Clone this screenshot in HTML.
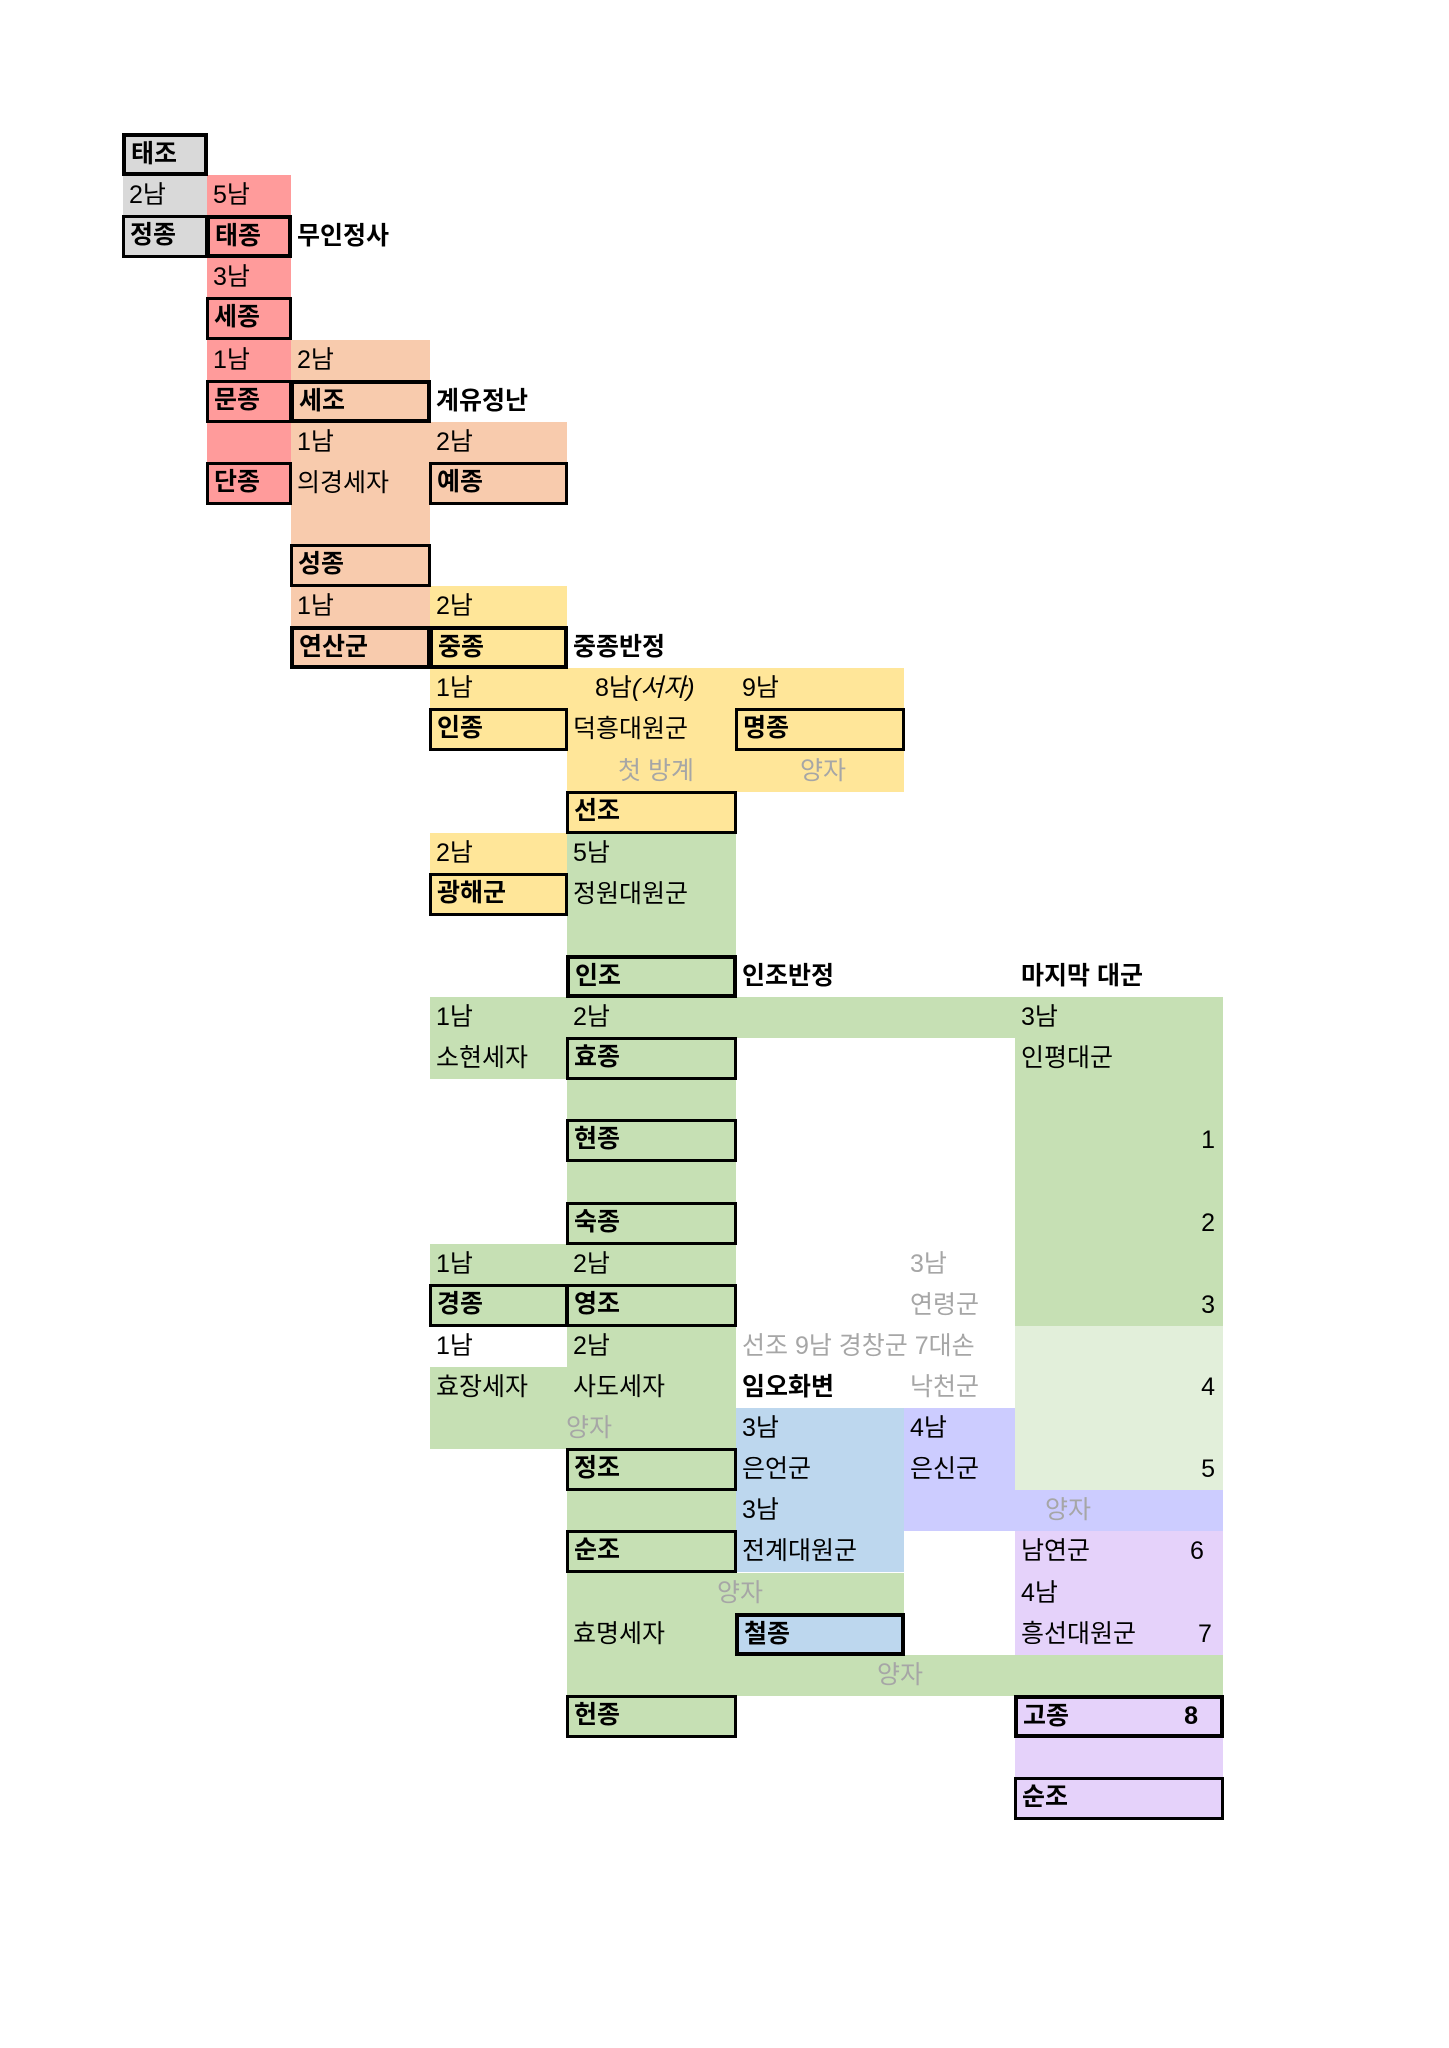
<!DOCTYPE html>
<html><head><meta charset="utf-8"><style>
html,body{margin:0;padding:0;background:#fff;}
body{width:1449px;height:2048px;position:relative;overflow:hidden;font-family:"Liberation Sans","Noto Sans CJK KR","NanumGothic",sans-serif;}
.b{position:absolute;}
.t{position:absolute;font-size:25px;line-height:41px;white-space:nowrap;color:#000;}
.bx{position:absolute;box-sizing:border-box;border:3px solid #000;font-size:25px;font-weight:bold;line-height:35px;padding-left:5px;white-space:nowrap;}
</style></head><body>
<script>
var C=[123,207,291,430,567,736,904,1015,1223];
var RH=41.1;
function Y(r){return 134+RH*r;}
var h='';
function bg(c1,c2,r1,r2,col){h+='<div class="b" style="left:'+C[c1]+'px;top:'+Y(r1)+'px;width:'+(C[c2]-C[c1])+'px;height:'+(Y(r2+1)-Y(r1))+'px;background:'+col+'"></div>';}
function bx(c,r,txt,col,thick,c2,right){c2=c2||c+1;var w=thick?4:3;h+='<div class="bx" style="left:'+(C[c]-1)+'px;top:'+(Y(r)-1)+'px;width:'+(C[c2]-C[c]+2)+'px;height:'+(RH+2)+'px;background:'+col+';border-width:'+w+'px">'+txt+(right?'<span style="position:absolute;right:22px">'+right+'</span>':'')+'</div>';}
function tx(x,r,txt,st){h+='<div class="t" style="left:'+x+'px;top:'+Y(r)+'px;'+(st||'')+'">'+txt+'</div>';}
function tc(cx,r,txt,st){h+='<div class="t" style="left:'+(cx-150)+'px;width:300px;text-align:center;top:'+Y(r)+'px;'+(st||'')+'">'+txt+'</div>';}
function tr(xr,r,txt,st){h+='<div class="t" style="left:'+(xr-100)+'px;width:100px;text-align:right;top:'+Y(r)+'px;'+(st||'')+'">'+txt+'</div>';}
var G='#d9d9d9',R='#ff9b9b',P='#f8cbad',Yl='#ffe699',Gr='#c6e0b4',LG='#e2efda',B='#bdd7ee',L='#ccccff',Pu='#e5d2fa',gt='color:#a6a6a6;';
bg(0,1,0,2,G);bg(1,2,1,8,R);bg(2,3,5,12,P);bg(3,4,7,8,P);
bg(3,4,11,14,Yl);bg(4,6,13,15,Yl);bg(4,5,16,16,Yl);bg(3,4,17,18,Yl);
bg(4,5,17,38,Gr);bg(3,4,21,22,Gr);bg(3,4,27,28,Gr);bg(3,4,30,31,Gr);bg(5,7,21,21,Gr);bg(7,8,21,28,Gr);bg(5,6,35,35,Gr);bg(5,8,37,37,Gr);
bg(7,8,29,32,LG);bg(5,6,31,34,B);bg(5,6,36,36,B);bg(6,7,31,32,L);bg(6,8,33,33,L);bg(7,8,34,36,Pu);bg(7,8,38,40,Pu);
bx(0,0,'태조',G,1);bx(0,2,'정종',G);bx(1,2,'태종',R,1);bx(1,4,'세종',R);bx(1,6,'문종',R);bx(2,6,'세조',P,1);bx(1,8,'단종',R);bx(3,8,'예종',P);
bx(2,10,'성종',P);bx(2,12,'연산군',P,1);bx(3,12,'중종',Yl,1);bx(3,14,'인종',Yl);bx(5,14,'명종',Yl);bx(4,16,'선조',Yl);bx(3,18,'광해군',Yl);
bx(4,20,'인조',Gr,1);bx(4,22,'효종',Gr);bx(4,24,'현종',Gr);bx(4,26,'숙종',Gr);bx(3,28,'경종',Gr);bx(4,28,'영조',Gr);bx(4,32,'정조',Gr);bx(4,34,'순조',Gr);
bx(5,36,'철종',B,1);bx(4,38,'헌종',Gr);bx(7,38,'고종',Pu,1,8,'8');bx(7,40,'순조',Pu);
var p=6;
tx(C[0]+p,1,'2남');tx(C[1]+p,1,'5남');tx(C[2]+6,2,'무인정사','font-weight:bold');tx(C[1]+p,3,'3남');
tx(C[1]+p,5,'1남');tx(C[2]+p,5,'2남');tx(C[3]+6,6,'계유정난','font-weight:bold');
tx(C[2]+p,7,'1남');tx(C[3]+p,7,'2남');tx(C[2]+p,8,'의경세자');
tx(C[2]+p,11,'1남');tx(C[3]+p,11,'2남');tx(C[4]+6,12,'중종반정','font-weight:bold');
tx(C[3]+p,13,'1남');tx(C[4]+28,13,'8남<i>(서자)</i>');tx(C[5]+p,13,'9남');tx(C[4]+p,14,'덕흥대원군');
tc(656,15,'첫 방계',gt);tc(823,15,'양자',gt);
tx(C[3]+p,17,'2남');tx(C[4]+p,17,'5남');tx(C[4]+p,18,'정원대원군');
tx(C[5]+6,20,'인조반정','font-weight:bold');tx(C[7]+6,20,'마지막 대군','font-weight:bold');
tx(C[3]+p,21,'1남');tx(C[4]+p,21,'2남');tx(C[7]+p,21,'3남');tx(C[3]+p,22,'소현세자');tx(C[7]+p,22,'인평대군');
tr(C[8]-8,24,'1');tr(C[8]-8,26,'2');tr(C[8]-8,28,'3');tr(C[8]-8,30,'4');tr(C[8]-8,32,'5');
tx(C[3]+p,27,'1남');tx(C[4]+p,27,'2남');tx(C[6]+6,27,'3남',gt);tx(C[6]+6,28,'연령군',gt);
tx(C[3]+p,29,'1남');tx(C[4]+p,29,'2남');tx(C[5]+p,29,'선조 9남 경창군 7대손',gt);
tx(C[3]+p,30,'효장세자');tx(C[4]+p,30,'사도세자');tx(C[5]+6,30,'임오화변','font-weight:bold');tx(C[6]+6,30,'낙천군',gt);
tc(589,31,'양자',gt);tx(C[5]+p,31,'3남');tx(C[6]+p,31,'4남');tx(C[5]+p,32,'은언군');tx(C[6]+p,32,'은신군');
tx(C[5]+p,33,'3남');tc(1068,33,'양자',gt);tx(C[5]+p,34,'전계대원군');tx(C[7]+p,34,'남연군');tx(1190,34,'6');
tc(740,35,'양자',gt);tx(C[7]+p,35,'4남');tx(C[4]+p,36,'효명세자');tx(C[7]+p,36,'흥선대원군');tx(1198,36,'7');
tc(900,37,'양자',gt);
document.body.insertAdjacentHTML('beforeend',h);
</script>
</body></html>
